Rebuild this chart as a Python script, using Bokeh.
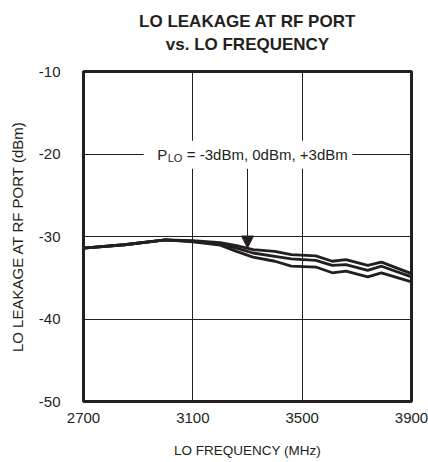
from bokeh.plotting import figure
from bokeh.models import (Label, Arrow, NormalHead, BoxAnnotation, FixedTicker, Title)
from bokeh.embed import file_html
from bokeh.resources import INLINE
import math

# ---- data ----
freq = [2700, 2850, 3000, 3100, 3200, 3260, 3320, 3400, 3460, 3550, 3610, 3660, 3740, 3790, 3900]
p_plus3 = [-31.4, -31.0, -30.4, -30.5, -30.75, -31.1, -31.6, -31.8, -32.2, -32.35, -33.0, -32.8, -33.5, -33.1, -34.5]
p_0 = [-31.4, -31.0, -30.4, -30.6, -30.9, -31.4, -32.0, -32.4, -32.7, -32.9, -33.5, -33.4, -34.1, -33.6, -34.9]
p_minus3 = [-31.4, -31.0, -30.4, -30.65, -31.05, -31.8, -32.5, -33.0, -33.6, -33.7, -34.4, -34.2, -34.9, -34.4, -35.5]
x_ticks = [2700, 3100, 3500, 3900]
y_ticks = [-50, -40, -30, -20, -10]
y_tick_labels = {-50: "-50", -40: "-40", -30: "-30", -20: "-20", -10: "-10"}
title_lines = ["LO LEAKAGE AT RF PORT", "vs. LO FREQUENCY"]

FONT = "Liberation Sans"
INK = "#231f20"

p = figure(width=428, height=460, output_backend="svg", toolbar_location=None,
           x_range=(2700, 3900), y_range=(-50, -10),
           min_border_left=83, min_border_right=17, min_border_top=71, min_border_bottom=59)
p.title.visible = False
# spacer panel nearest the frame, then the two title lines
p.add_layout(Title(text=" ", text_font_size="1px", standoff=14), "above")
for txt in (title_lines[1], title_lines[0]):
    p.add_layout(Title(text=txt, align="center", text_font=FONT,
                       text_font_size="17px", text_font_style="bold", text_color=INK,
                       standoff=2), "above")

p.outline_line_color = INK
p.outline_line_width = 3
p.background_fill_color = "white"
p.border_fill_color = "white"

for ax in (p.xaxis, p.yaxis):
    ax.axis_line_color = None
    ax.major_tick_line_color = None
    ax.minor_tick_line_color = None
    ax.major_label_text_font = FONT
    ax.major_label_text_font_size = "15px"
    ax.major_label_text_color = INK
    ax.axis_label_text_font = FONT
    ax.axis_label_text_font_style = "normal"
    ax.axis_label_text_color = INK
p.xaxis.axis_label_text_font_size = "13.5px"
p.yaxis.axis_label_text_font_size = "15px"

p.xaxis.ticker = FixedTicker(ticks=x_ticks)
p.yaxis.ticker = FixedTicker(ticks=y_ticks)
p.yaxis.major_label_overrides = y_tick_labels
p.xaxis.major_label_standoff = 5
p.yaxis.major_label_standoff = 17
p.xaxis.axis_label_standoff = 17
p.yaxis.axis_label_standoff = 10
p.xaxis.axis_label = "LO FREQUENCY (MHz)"
p.yaxis.axis_label = "LO LEAKAGE AT RF PORT (dBm)"

p.xgrid.ticker = FixedTicker(ticks=x_ticks)
p.ygrid.ticker = FixedTicker(ticks=y_ticks)
for g in (p.xgrid, p.ygrid):
    g.grid_line_color = INK
    g.grid_line_width = 1
    g.grid_line_alpha = 1

for ys in (p_plus3, p_0, p_minus3):
    p.line(freq, ys, line_color=INK, line_width=2.8, line_join="round")

# white box behind the annotation text (gaps in the grid)
p.add_layout(BoxAnnotation(left=2920, right=3684, bottom=-21.8, top=-18.4,
                           fill_color="white", fill_alpha=1, line_color=None))

p.add_layout(Label(x=3006, y=-20, text="P", text_font=FONT, text_font_size="15px",
                   text_align="right", text_baseline="middle", text_color=INK))
p.add_layout(Label(x=3008, y=-20, y_offset=-4, text="LO", text_font=FONT, text_font_size="11px",
                   text_align="left", text_baseline="middle", text_color=INK))
p.add_layout(Label(x=3078, y=-20, text="= -3dBm, 0dBm, +3dBm", text_font=FONT,
                   text_font_size="15px", text_align="left", text_baseline="middle",
                   text_color=INK))

p.add_layout(Arrow(x_start=3300, y_start=-21.8, x_end=3300, y_end=-31.4,
                   line_color=INK, line_width=1,
                   end=NormalHead(size=12, fill_color=INK, line_color=INK)))

p.add_layout(Label(x=3900, y=-10, x_offset=4, y_offset=2, text="MAX19999 toc29",
                   angle=math.pi / 2, text_font=FONT, text_font_size="9px",
                   text_align="right", text_baseline="top", text_color=INK))

open("out.html", "w").write(file_html(p, INLINE))
